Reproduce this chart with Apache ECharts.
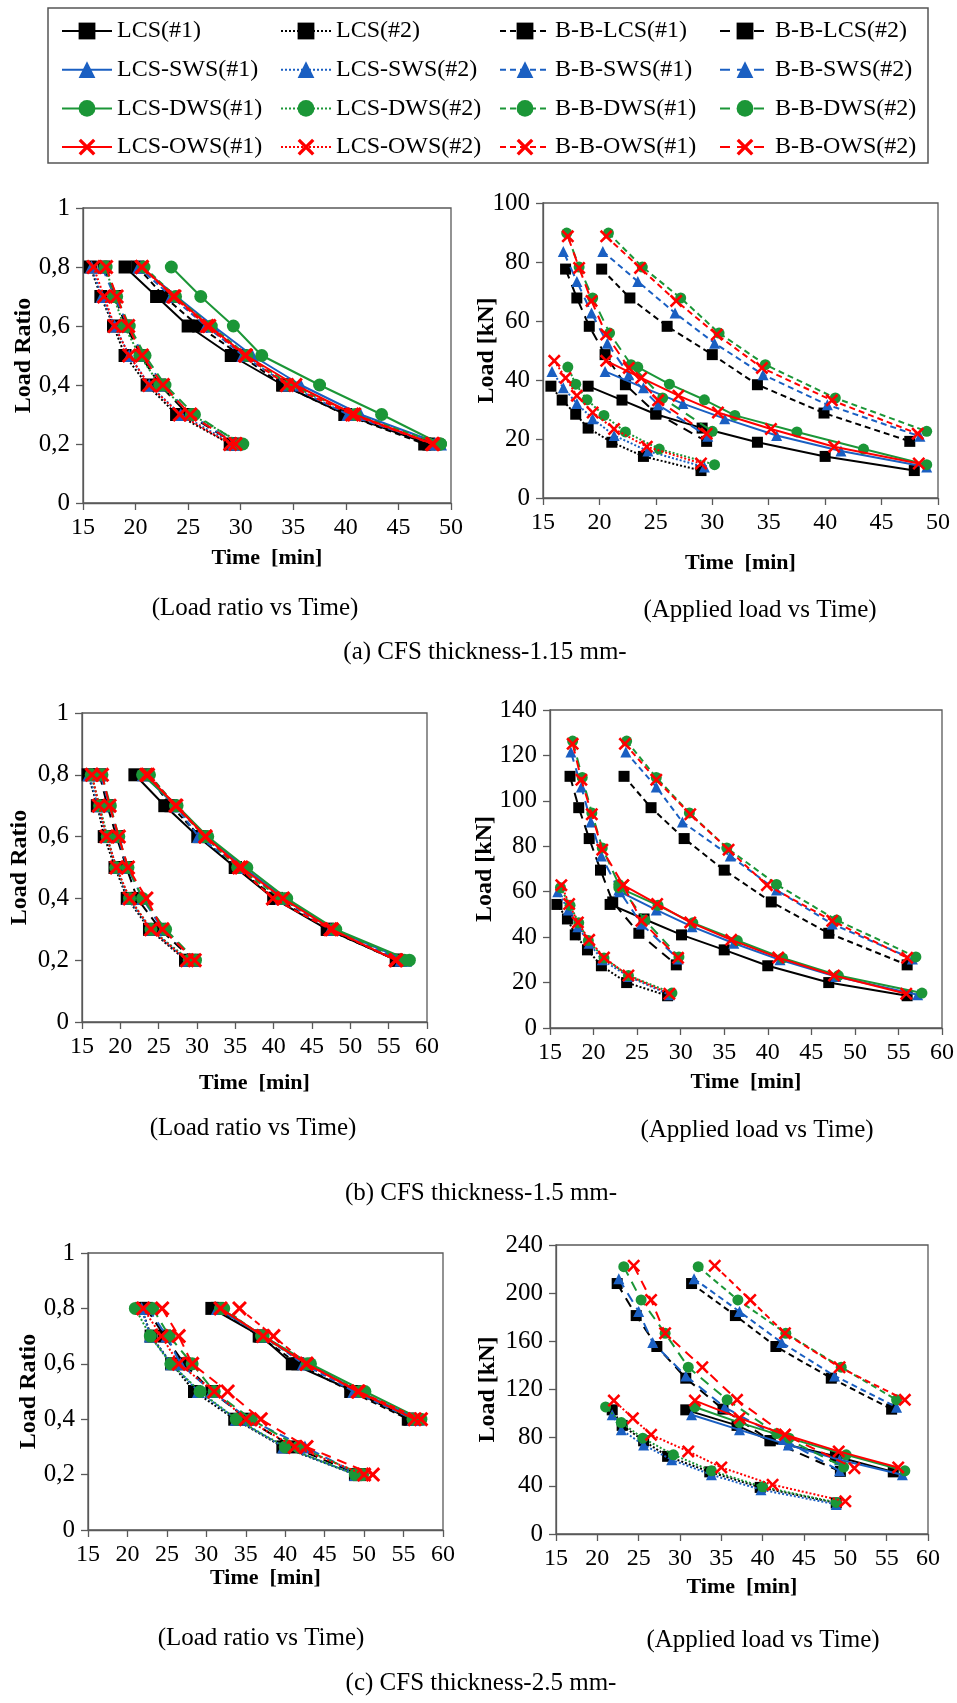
<!DOCTYPE html>
<html>
<head>
<meta charset="utf-8">
<title>Load ratio / applied load vs time</title>
<script src="https://cdn.jsdelivr.net/npm/echarts@6/dist/echarts.min.js"></script>
<style>
  html, body { margin: 0; padding: 0; background: #fff; }
  #chart { width: 957px; height: 1703px; }
</style>
</head>
<body>
<div id="chart"></div>
<script>
// series order used by every time / load table below
var seriesNames = [
  'LCS(#1)', 'LCS(#2)', 'B-B-LCS(#1)', 'B-B-LCS(#2)',
  'LCS-SWS(#1)', 'LCS-SWS(#2)', 'B-B-SWS(#1)', 'B-B-SWS(#2)',
  'LCS-DWS(#1)', 'LCS-DWS(#2)', 'B-B-DWS(#1)', 'B-B-DWS(#2)',
  'LCS-OWS(#1)', 'LCS-OWS(#2)', 'B-B-OWS(#1)', 'B-B-OWS(#2)'
]
var loadRatios = [0.8, 0.7, 0.6, 0.5, 0.4, 0.3, 0.2]
var ratioTicks = ['0', '0,2', '0,4', '0,6', '0,8', '1']

// (a) CFS thickness 1.15 mm
var timeA = [
  [19.0, 22.0, 25.0, 29.1, 34.0, 40.0, 47.9],
  [15.7, 16.7, 17.9, 19.0, 21.1, 23.9, 29.0],
  [20.2, 22.7, 26.0, 30.0, 34.0, 39.9, 47.5],
  [17.0, 18.0, 19.1, 20.5, 22.3, 25.0, 29.5],
  [20.5, 23.9, 27.4, 31.1, 35.7, 41.4, 49.0],
  [15.8, 16.8, 18.0, 19.4, 21.3, 24.3, 29.3],
  [20.3, 23.4, 26.7, 30.2, 34.5, 40.2, 48.4],
  [16.8, 18.0, 19.3, 20.7, 22.6, 25.2, 29.6],
  [23.4, 26.2, 29.3, 32.0, 37.5, 43.4, 49.0],
  [17.2, 17.9, 18.9, 20.4, 22.3, 25.3, 30.2],
  [20.8, 23.8, 27.2, 30.6, 34.7, 40.9, 49.0],
  [17.1, 18.2, 19.4, 20.9, 22.8, 25.6, 30.0],
  [20.6, 23.7, 27.0, 30.5, 35.2, 40.8, 48.3],
  [16.0, 17.0, 18.0, 19.4, 21.3, 24.2, 29.0],
  [20.6, 23.6, 26.8, 30.4, 34.4, 40.6, 48.2],
  [17.2, 18.2, 19.3, 20.6, 22.6, 25.2, 29.5]
]
var loadA = [
  [37.9, 33.2, 28.4, 23.7, 18.9, 14.1, 9.3],
  [37.9, 33.2, 28.4, 23.7, 18.9, 14.1, 9.3],
  [77.6, 67.8, 58.2, 48.6, 38.4, 28.8, 19.2],
  [77.6, 67.8, 58.2, 48.6, 38.4, 28.8, 19.2],
  [42.9, 37.4, 32.0, 26.9, 21.2, 15.9, 10.5],
  [42.9, 37.4, 32.0, 26.9, 21.2, 15.9, 10.5],
  [83.6, 73.4, 62.7, 52.5, 41.8, 31.6, 20.9],
  [83.6, 73.4, 62.7, 52.5, 41.8, 31.6, 20.9],
  [44.4, 38.6, 33.3, 28.0, 22.4, 16.6, 11.3],
  [44.4, 38.6, 33.3, 28.0, 22.4, 16.6, 11.3],
  [89.8, 78.3, 67.8, 55.9, 45.2, 33.9, 22.6],
  [89.8, 78.3, 67.8, 55.9, 45.2, 33.9, 22.6],
  [46.5, 40.7, 34.7, 29.0, 23.4, 17.4, 11.7],
  [46.5, 40.7, 34.7, 29.0, 23.4, 17.4, 11.7],
  [88.7, 78.0, 66.8, 55.4, 44.1, 33.1, 21.8],
  [88.7, 78.0, 66.8, 55.4, 44.1, 33.1, 21.8]
]

// (b) CFS thickness 1.5 mm
var timeB = [
  [21.9, 25.8, 30.1, 35.0, 40.0, 47.0, 56.0],
  [15.8, 17.0, 17.9, 19.3, 20.9, 23.8, 28.5],
  [23.5, 26.6, 30.4, 35.0, 40.4, 47.0, 56.0],
  [17.3, 18.3, 19.5, 20.8, 22.2, 25.2, 29.5],
  [23.0, 27.2, 31.3, 36.1, 41.4, 47.8, 57.2],
  [15.9, 17.1, 18.2, 19.5, 21.0, 24.0, 28.7],
  [23.7, 27.2, 30.2, 35.7, 41.0, 47.4, 56.6],
  [17.4, 18.6, 19.7, 20.9, 22.9, 25.5, 29.7],
  [22.9, 27.4, 31.4, 36.5, 41.7, 48.1, 57.7],
  [16.2, 17.3, 18.3, 19.4, 21.2, 24.0, 29.0],
  [23.8, 27.2, 31.0, 35.3, 41.0, 47.9, 57.0],
  [17.6, 18.7, 19.8, 21.0, 22.9, 25.9, 29.8],
  [23.4, 27.3, 31.1, 35.8, 41.2, 47.6, 55.9],
  [16.3, 17.2, 18.2, 19.5, 21.2, 24.0, 28.7],
  [23.6, 27.2, 31.1, 35.5, 39.9, 47.4, 56.0],
  [17.6, 18.6, 19.8, 21.0, 23.4, 25.5, 29.7]
]
var loadB = [
  [54.4, 48.0, 41.0, 34.4, 27.4, 20.0, 14.2],
  [54.4, 48.0, 41.0, 34.4, 27.4, 20.0, 14.2],
  [110.8, 97.0, 83.4, 69.5, 55.5, 41.7, 27.8],
  [110.8, 97.0, 83.4, 69.5, 55.5, 41.7, 27.8],
  [60.0, 52.0, 44.6, 37.3, 30.0, 22.7, 14.6],
  [60.0, 52.0, 44.6, 37.3, 30.0, 22.7, 14.6],
  [121.5, 106.1, 90.7, 75.7, 60.7, 45.8, 30.4],
  [121.5, 106.1, 90.7, 75.7, 60.7, 45.8, 30.4],
  [61.8, 54.0, 46.3, 38.5, 30.8, 23.1, 15.4],
  [61.8, 54.0, 46.3, 38.5, 30.8, 23.1, 15.4],
  [126.3, 110.3, 94.7, 79.3, 63.2, 47.5, 31.3],
  [126.3, 110.3, 94.7, 79.3, 63.2, 47.5, 31.3],
  [62.9, 54.6, 46.5, 38.8, 31.0, 23.1, 15.1],
  [62.9, 54.6, 46.5, 38.8, 31.0, 23.1, 15.1],
  [125.1, 109.3, 94.1, 78.5, 62.9, 47.2, 30.9],
  [125.1, 109.3, 94.1, 78.5, 62.9, 47.2, 30.9]
]

// (c) CFS thickness 2.5 mm  (#1 tests stop at ratio 0.4)
var timeC = [
  [30.7, 36.9, 40.9, 48.8, 55.8],
  [21.8, 23.0, 25.6, 28.5, 33.6, 39.7, 48.9],
  [31.4, 36.7, 41.6, 48.3, 55.6],
  [22.4, 24.7, 27.2, 30.7, 35.2, 40.9, 49.4],
  [31.4, 37.2, 43.1, 49.3, 56.9],
  [21.8, 22.9, 25.6, 29.0, 33.8, 39.8, 48.9],
  [31.7, 37.2, 42.3, 48.7, 56.2],
  [22.6, 25.0, 26.7, 30.7, 35.4, 42.5, 49.3],
  [31.8, 37.2, 43.2, 50.1, 57.2],
  [21.0, 22.9, 25.5, 29.2, 33.8, 40.0, 48.9],
  [32.2, 37.0, 42.8, 49.5, 56.2],
  [23.2, 25.3, 28.2, 31.0, 35.7, 41.7, 49.8],
  [31.8, 37.2, 42.7, 49.2, 56.4],
  [22.0, 24.3, 26.5, 31.0, 35.0, 41.2, 50.0],
  [34.2, 38.5, 42.7, 49.3, 57.2],
  [24.4, 26.5, 28.2, 32.7, 36.9, 42.7, 51.1]
]
var loadC = [
  [103.1, 90.2, 77.4, 64.5, 51.6],
  [103.1, 90.2, 77.4, 64.5, 51.6, 38.7, 25.8],
  [208.0, 181.4, 155.7, 129.4, 103.7],
  [208.0, 181.4, 155.7, 129.4, 103.7, 77.6, 52.0],
  [99.0, 86.5, 74.0, 61.6, 49.2],
  [99.0, 86.5, 74.0, 61.6, 49.2, 36.8, 24.6],
  [212.0, 184.7, 159.0, 131.3, 105.3],
  [212.0, 184.7, 159.0, 131.3, 105.3, 78.5, 52.5],
  [105.5, 92.5, 79.6, 65.8, 52.5],
  [105.5, 92.5, 79.6, 65.8, 52.5, 39.2, 26.2],
  [222.0, 194.4, 166.7, 138.5, 111.4],
  [222.0, 194.4, 166.7, 138.5, 111.4, 83.4, 55.6],
  [110.8, 96.2, 82.4, 68.6, 55.3],
  [110.8, 96.2, 82.4, 68.6, 55.3, 40.9, 27.1],
  [222.8, 194.4, 166.7, 138.5, 111.4],
  [222.8, 194.4, 166.7, 138.5, 111.4, 82.4, 54.7]
]

var serif = '"Liberation Serif", "Times New Roman", serif'
var axisColor = '#595959'
var colors = ['#000000', '#1a5fc2', '#1b9637', '#ff0000']
var crossPath = 'path://M0,1.4L1.4,0L5,3.6L8.6,0L10,1.4L6.4,5L10,8.6L8.6,10L5,6.4L1.4,10L0,8.6L3.6,5Z'
var symbols = ['rect', 'triangle', 'circle', crossPath]
var dashes = ['solid', 'dotted', [6, 4], [10, 7]]

// grid boxes: [left, top, width, height]
var boxes = [
  [83, 208, 368, 295], [543, 203, 395, 295],
  [82, 713, 345, 309], [550, 710, 398, 318],
  [88, 1253, 355, 277], [556, 1245, 372, 289]
]
var xMax = [50, 50, 60, 60, 60, 60]
var yMax = [1, 100, 1, 140, 1, 240]
var yStep = [0.2, 20, 0.2, 20, 0.2, 40]
var yNameGap = [47, 44, 50, 53, 47, 56]
var xNameGap = [44, 54, 50, 43, 37, 42]

function makeOption () {
  var grids = []
  var xAxes = []
  var yAxes = []
  var series = []

  boxes.forEach(function (b, g) {
    var isRatio = g % 2 === 0
    grids.push({
      left: b[0], top: b[1], width: b[2], height: b[3],
      show: true, borderColor: axisColor, borderWidth: 1.3, backgroundColor: 'transparent'
    })
    xAxes.push({
      type: 'value', gridIndex: g, min: 15, max: xMax[g], interval: 5,
      name: 'Time  [min]', nameLocation: 'middle', nameGap: xNameGap[g], nameMoveOverlap: false,
      nameTextStyle: { fontFamily: serif, fontWeight: 'bold', fontSize: 22, color: '#000' },
      axisLine: { show: true, onZero: false, lineStyle: { color: axisColor, width: 1.3 } },
      axisTick: { show: true, length: 7, lineStyle: { color: axisColor, width: 1.3 } },
      axisLabel: { fontFamily: serif, fontSize: 24, color: '#000', margin: 13, showMinLabel: true, showMaxLabel: true },
      splitLine: { show: false }
    })
    yAxes.push({
      type: 'value', gridIndex: g, min: 0, max: yMax[g], interval: yStep[g],
      name: isRatio ? 'Load Ratio' : 'Load [kN]', nameLocation: 'middle', nameGap: yNameGap[g], nameMoveOverlap: false,
      nameTextStyle: { fontFamily: serif, fontWeight: 'bold', fontSize: 24, color: '#000' },
      axisLine: { show: true, lineStyle: { color: axisColor, width: 1.3 } },
      axisTick: { show: true, length: 7, lineStyle: { color: axisColor, width: 1.3 } },
      axisLabel: {
        fontFamily: serif, fontSize: 25, color: '#000', margin: 13,
        formatter: isRatio ? function (v) { return ratioTicks[Math.round(v * 5)] } : null
      },
      splitLine: { show: false }
    })
  })

  var panels = [[timeA, loadA], [timeB, loadB], [timeC, loadC]]
  panels.forEach(function (p, k) {
    var times = p[0]
    var loads = p[1]
    seriesNames.forEach(function (name, i) {
      var fam = Math.floor(i / 4)
      var base = {
        type: 'line', name: name,
        symbol: symbols[fam],
        color: colors[fam],
        itemStyle: { color: colors[fam] },
        lineStyle: { color: colors[fam], width: 2, type: dashes[i % 4] },
        z: 2 + fam,
        silent: true
      }
      series.push(Object.assign({}, base, {
        xAxisIndex: k * 2, yAxisIndex: k * 2,
        symbolSize: fam === 3 ? 15 : 13,
        data: times[i].map(function (t, j) { return [t, loadRatios[j]] })
      }))
      series.push(Object.assign({}, base, {
        xAxisIndex: k * 2 + 1, yAxisIndex: k * 2 + 1,
        symbolSize: fam === 3 ? 13 : 11,
        data: times[i].map(function (t, j) { return [t, loads[i][j]] })
      }))
    })
  })

  var legendLefts = [56, 275, 494, 714]
  var legends = legendLefts.map(function (left, c) {
    return {
      orient: 'vertical', left: left, top: 13,
      itemWidth: 50, itemHeight: 21, itemGap: 12.7,
      selectedMode: false,
      data: [seriesNames[c], seriesNames[4 + c], seriesNames[8 + c], seriesNames[12 + c]],
      textStyle: { fontFamily: serif, fontSize: 24, color: '#000', lineHeight: 26 }
    }
  })

  var textStyle = function (txt, x, y) {
    return {
      type: 'text', x: x, y: y,
      style: { text: txt, fontFamily: serif, fontSize: 25, fill: '#000', textAlign: 'center', textVerticalAlign: 'middle' }
    }
  }

  return {
    animation: false,
    backgroundColor: '#fff',
    legend: legends,
    grid: grids,
    xAxis: xAxes,
    yAxis: yAxes,
    series: series,
    graphic: [
      { type: 'rect', shape: { x: 48, y: 8, width: 880, height: 155 }, style: { fill: 'none', stroke: '#555', lineWidth: 1.5 } },
      textStyle('(Load ratio vs Time)', 255, 608),
      textStyle('(Applied load vs Time)', 760, 610),
      textStyle('(a) CFS thickness-1.15 mm-', 485, 652),
      textStyle('(Load ratio vs Time)', 253, 1128),
      textStyle('(Applied load vs Time)', 757, 1130),
      textStyle('(b) CFS thickness-1.5 mm-', 481, 1193),
      textStyle('(Load ratio vs Time)', 261, 1638),
      textStyle('(Applied load vs Time)', 763, 1640),
      textStyle('(c) CFS thickness-2.5 mm-', 481, 1683)
    ]
  }
}

var chart = echarts.init(document.getElementById('chart'))
chart.setOption(makeOption())
</script>
</body>
</html>
